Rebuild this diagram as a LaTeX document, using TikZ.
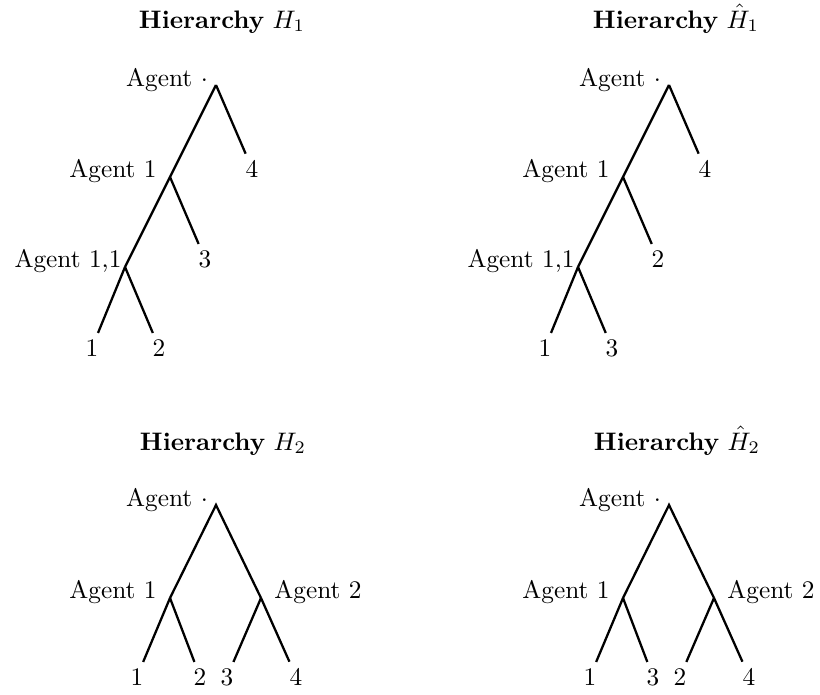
\documentclass[tikz,border=0pt]{standalone}

\tikzset{every picture/.style={line width=0.9pt}}
\tikzset{
  agent/.style={anchor=base,inner sep=0pt},
  leaf/.style={anchor=base,inner sep=2pt},
  title/.style={anchor=base,inner sep=0pt}
}

\begin{document}
\begin{tikzpicture}[x=0.395pt,y=0.395pt,yscale=-1,xscale=1]
%set diagram at 820 x 694
\useasboundingbox (0,0) rectangle (820,694);

%Hierarchy H_1
\node [title] (t1) at (222,28) {\textbf{Hierarchy} $H_1$};
\coordinate (h1r) at (216,85);
\coordinate (h1a) at (170,177);
\coordinate (h1b) at (125,267);
\node [agent] (h1rl) at (167,86) {Agent $\cdot$};
\node [agent] (h1al) at (113,177) {Agent 1};
\node [agent] (h1bl) at (68,267) {Agent 1,1};
\node [leaf] (h1l4) at (252,177) {4};
\node [leaf] (h1l3) at (205,267) {3};
\node [leaf] (h1l1) at (92,356) {1};
\node [leaf] (h1l2) at (159,356) {2};
\draw (h1r) -- (h1a) -- (h1b) ;
\draw (h1r) -- (h1l4) ;
\draw (h1a) -- (h1l3) ;
\draw (h1b) -- (h1l1) ;
\draw (h1b) -- (h1l2) ;

%Hierarchy \hat H_1
\node [title] (t2) at (676,28) {\textbf{Hierarchy} $\hat{H}_1$};
\coordinate (g1r) at (669,85);
\coordinate (g1a) at (623,177);
\coordinate (g1b) at (578,267);
\node [agent] (g1rl) at (620,86) {Agent $\cdot$};
\node [agent] (g1al) at (566,177) {Agent 1};
\node [agent] (g1bl) at (521,267) {Agent 1,1};
\node [leaf] (g1l4) at (705,177) {4};
\node [leaf] (g1l2) at (658,267) {2};
\node [leaf] (g1l1) at (545,356) {1};
\node [leaf] (g1l3) at (612,356) {3};
\draw (g1r) -- (g1a) -- (g1b) ;
\draw (g1r) -- (g1l4) ;
\draw (g1a) -- (g1l2) ;
\draw (g1b) -- (g1l1) ;
\draw (g1b) -- (g1l3) ;

%Hierarchy H_2
\node [title] (t3) at (223,450) {\textbf{Hierarchy} $H_2$};
\coordinate (h2r) at (216,505);
\coordinate (h2a) at (170,598);
\coordinate (h2b) at (261,598);
\node [agent] (h2rl) at (167,506) {Agent $\cdot$};
\node [agent] (h2al) at (113,598) {Agent 1};
\node [agent] (h2bl) at (318,598) {Agent 2};
\node [leaf] (h2l1) at (137,685) {1};
\node [leaf] (h2l2) at (200,685) {2};
\node [leaf] (h2l3) at (227,685) {3};
\node [leaf] (h2l4) at (296,685) {4};
\draw (h2a) -- (h2r) -- (h2b) ;
\draw (h2a) -- (h2l1) ;
\draw (h2a) -- (h2l2) ;
\draw (h2b) -- (h2l3) ;
\draw (h2b) -- (h2l4) ;

%Hierarchy \hat H_2
\node [title] (t4) at (677,450) {\textbf{Hierarchy} $\hat{H}_2$};
\coordinate (g2r) at (669,505);
\coordinate (g2a) at (623,598);
\coordinate (g2b) at (714,598);
\node [agent] (g2rl) at (620,506) {Agent $\cdot$};
\node [agent] (g2al) at (566,598) {Agent 1};
\node [agent] (g2bl) at (771,598) {Agent 2};
\node [leaf] (g2l1) at (590,685) {1};
\node [leaf] (g2l3) at (653,685) {3};
\node [leaf] (g2l2) at (680,685) {2};
\node [leaf] (g2l4) at (749,685) {4};
\draw (g2a) -- (g2r) -- (g2b) ;
\draw (g2a) -- (g2l1) ;
\draw (g2a) -- (g2l3) ;
\draw (g2b) -- (g2l2) ;
\draw (g2b) -- (g2l4) ;

\end{tikzpicture}
\end{document}
